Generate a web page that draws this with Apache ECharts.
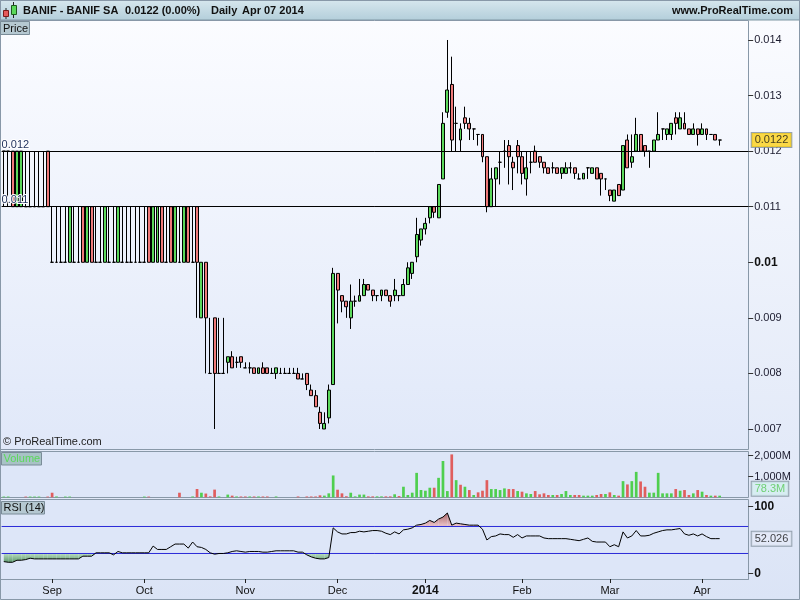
<!DOCTYPE html>
<html><head><meta charset="utf-8">
<script src="https://cdn.jsdelivr.net/npm/echarts@6/dist/echarts.min.js"></script>
<style>html,body{margin:0;padding:0;background:#fff}#c{width:800px;height:600px}</style>
</head><body><div id="c"></div><script>
// ---------- categories ----------
const closedDays = ['2013-12-25', '2013-12-26', '2014-01-01'];
function buildTradingDays(start, end, closed) {
  const out = []; const d = new Date(start + 'T00:00:00Z'); const e = new Date(end + 'T00:00:00Z');
  while (d <= e) {
    const w = d.getUTCDay(); const s = d.toISOString().slice(0, 10);
    if (w !== 0 && w !== 6 && closed.indexOf(s) < 0) out.push(s);
    d.setUTCDate(d.getUTCDate() + 1);
  }
  return out;
}
const dates = buildTradingDays('2013-08-16', '2014-04-07', closedDays);
const padCats = ['p1', 'p2', 'p3', 'p4', 'p5', 'p6'];
const monthLabels = ['Sep', 'Oct', 'Nov', 'Dec', '2014', 'Feb', 'Mar', 'Apr'];
const priceTicks = [0.007, 0.008, 0.009, 0.01, 0.011, 0.012, 0.013, 0.014];
const volumeTicks = [1000, 2000];
const rsiTicks = [0, 100];
const refLevels = [0.012, 0.011];
const rsiBands = [70, 30];

// ---------- values ----------
const open = [
0.0120,0.0120,0.0120,0.0110,0.0110,0.0110,0.0110,0.0110,0.0110,0.0110,
0.0120,0.0100,0.0100,0.0100,0.0100,0.0100,0.0100,0.0100,0.0110,0.0100,
0.0110,0.0100,0.0100,0.0100,0.0100,0.0100,0.0100,0.0100,0.0100,0.0100,
0.0100,0.0100,0.0100,0.0110,0.0100,0.0100,0.0110,0.0100,0.0110,0.0100,
0.0100,0.0100,0.0110,0.0100,0.0110,0.0090,0.0100,0.0080,0.0090,0.0080,
0.0080,0.0082,0.0083,0.0082,0.0083,0.0081,0.0081,0.0081,0.0080,0.0081,
0.0081,0.0080,0.0080,0.0080,0.0080,0.0080,0.0080,0.0080,0.0079,0.0080,
0.0077,0.0076,0.0073,0.0070,0.0072,0.0078,0.0098,0.0094,0.0093,0.0090,
0.0093,0.0093,0.0094,0.0096,0.0095,0.0094,0.0094,0.0095,0.0094,0.0094,
0.0094,0.0094,0.0096,0.0098,0.0101,0.0104,0.0106,0.0108,0.0110,0.0108,
0.0115,0.0127,0.0132,0.0125,0.0122,0.0126,0.0125,0.0124,0.0123,0.0123,
0.0119,0.0110,0.0115,0.0118,0.0120,0.0121,0.0118,0.0121,0.0119,0.0115,
0.0118,0.0120,0.0119,0.0118,0.0117,0.0117,0.0117,0.0116,0.0116,0.0117,
0.0117,0.0115,0.0115,0.0117,0.0116,0.0117,0.0116,0.0115,0.0113,0.0111,
0.0114,0.0113,0.0122,0.0118,0.0120,0.0123,0.0121,0.0120,0.0120,0.0122,
0.0124,0.0123,0.0123,0.0126,0.0124,0.0125,0.0124,0.0123,0.0124,0.0123,
0.0124,0.0123,0.0123,0.0122];
const high = [
0.0120,0.0120,0.0120,0.0120,0.0120,0.0120,0.0120,0.0120,0.0120,0.0120,
0.0120,0.0110,0.0110,0.0110,0.0110,0.0110,0.0110,0.0110,0.0110,0.0110,
0.0110,0.0110,0.0110,0.0110,0.0110,0.0110,0.0110,0.0110,0.0110,0.0110,
0.0110,0.0110,0.0110,0.0110,0.0110,0.0110,0.0110,0.0110,0.0110,0.0110,
0.0110,0.0110,0.0110,0.0110,0.0110,0.0100,0.0100,0.0090,0.0090,0.0090,
0.0090,0.0083,0.0084,0.0083,0.0083,0.0082,0.0082,0.0081,0.0081,0.0082,
0.0081,0.0081,0.0081,0.0081,0.0081,0.0081,0.0081,0.0081,0.0080,0.0080,
0.0078,0.0077,0.0074,0.0073,0.0078,0.0099,0.0098,0.0094,0.0093,0.0096,
0.0094,0.0097,0.0097,0.0096,0.0095,0.0094,0.0095,0.0095,0.0094,0.0097,
0.0094,0.0097,0.0100,0.0100,0.0108,0.0106,0.0108,0.0110,0.0110,0.0114,
0.0127,0.0140,0.0137,0.0128,0.0125,0.0128,0.0126,0.0124,0.0123,0.0123,
0.0119,0.0117,0.0117,0.0120,0.0122,0.0122,0.0119,0.0122,0.0120,0.0120,
0.0120,0.0121,0.0119,0.0118,0.0117,0.0118,0.0117,0.0117,0.0118,0.0118,
0.0117,0.0116,0.0116,0.0117,0.0117,0.0117,0.0116,0.0115,0.0113,0.0113,
0.0114,0.0121,0.0123,0.0123,0.0126,0.0123,0.0121,0.0120,0.0122,0.0127,
0.0124,0.0124,0.0125,0.0127,0.0127,0.0127,0.0124,0.0125,0.0124,0.0125,
0.0124,0.0123,0.0123,0.0122];
const low = [
0.0110,0.0110,0.0110,0.0110,0.0110,0.0110,0.0110,0.0110,0.0110,0.0110,
0.0110,0.0100,0.0100,0.0100,0.0100,0.0100,0.0100,0.0100,0.0100,0.0100,
0.0100,0.0100,0.0100,0.0100,0.0100,0.0100,0.0100,0.0100,0.0100,0.0100,
0.0100,0.0100,0.0100,0.0100,0.0100,0.0100,0.0100,0.0100,0.0100,0.0100,
0.0100,0.0100,0.0100,0.0100,0.0090,0.0090,0.0080,0.0080,0.0070,0.0080,
0.0080,0.0080,0.0081,0.0081,0.0081,0.0081,0.0080,0.0080,0.0080,0.0080,
0.0080,0.0080,0.0079,0.0080,0.0080,0.0080,0.0080,0.0079,0.0079,0.0077,
0.0076,0.0074,0.0070,0.0070,0.0071,0.0078,0.0089,0.0091,0.0090,0.0088,
0.0092,0.0093,0.0094,0.0095,0.0093,0.0093,0.0093,0.0094,0.0092,0.0093,
0.0093,0.0094,0.0096,0.0097,0.0100,0.0103,0.0105,0.0107,0.0108,0.0108,
0.0115,0.0126,0.0120,0.0120,0.0120,0.0124,0.0122,0.0122,0.0121,0.0118,
0.0109,0.0110,0.0110,0.0114,0.0117,0.0114,0.0113,0.0116,0.0114,0.0112,
0.0116,0.0118,0.0117,0.0116,0.0116,0.0116,0.0116,0.0115,0.0116,0.0116,
0.0115,0.0115,0.0115,0.0115,0.0116,0.0115,0.0112,0.0113,0.0111,0.0111,
0.0112,0.0113,0.0117,0.0117,0.0120,0.0120,0.0119,0.0117,0.0120,0.0122,
0.0122,0.0122,0.0122,0.0123,0.0124,0.0124,0.0123,0.0123,0.0121,0.0123,
0.0122,0.0123,0.0122,0.0121];
const close = [
0.0120,0.0120,0.0110,0.0120,0.0120,0.0110,0.0110,0.0110,0.0110,0.0110,
0.0110,0.0100,0.0100,0.0100,0.0100,0.0110,0.0100,0.0100,0.0100,0.0110,
0.0100,0.0100,0.0100,0.0110,0.0100,0.0100,0.0110,0.0100,0.0100,0.0100,
0.0100,0.0100,0.0100,0.0100,0.0110,0.0110,0.0100,0.0100,0.0100,0.0110,
0.0100,0.0110,0.0100,0.0100,0.0100,0.0100,0.0090,0.0080,0.0080,0.0080,
0.0080,0.0083,0.0081,0.0082,0.0082,0.0081,0.0081,0.0080,0.0081,0.0080,
0.0080,0.0080,0.0081,0.0080,0.0080,0.0080,0.0080,0.0079,0.0079,0.0078,
0.0076,0.0074,0.0071,0.0071,0.0077,0.0098,0.0095,0.0093,0.0092,0.0093,
0.0093,0.0094,0.0096,0.0095,0.0094,0.0094,0.0095,0.0094,0.0093,0.0095,
0.0094,0.0096,0.0099,0.0100,0.0105,0.0106,0.0107,0.0110,0.0109,0.0114,
0.0125,0.0131,0.0122,0.0125,0.0124,0.0125,0.0124,0.0124,0.0123,0.0119,
0.0110,0.0115,0.0117,0.0118,0.0120,0.0119,0.0117,0.0119,0.0116,0.0117,
0.0118,0.0118,0.0118,0.0117,0.0116,0.0117,0.0116,0.0117,0.0117,0.0117,
0.0116,0.0115,0.0116,0.0117,0.0117,0.0115,0.0115,0.0115,0.0112,0.0113,
0.0112,0.0121,0.0117,0.0119,0.0123,0.0120,0.0120,0.0120,0.0122,0.0123,
0.0124,0.0124,0.0125,0.0125,0.0126,0.0124,0.0123,0.0124,0.0123,0.0124,
0.0123,0.0123,0.0122,0.0122];
// volume in millions of shares
const volume = [
35,35,0,0,0,35,35,35,35,0,
35,220,40,0,35,35,0,0,0,0,
0,0,0,0,0,0,0,0,0,0,
0,0,35,35,0,0,0,0,0,0,
220,0,0,40,400,220,180,45,370,40,
0,130,80,40,40,40,40,40,40,40,
40,0,40,0,0,0,0,40,0,40,
40,40,95,80,190,1050,365,190,50,220,
45,130,130,45,45,45,45,45,45,145,
60,508,110,222,1175,350,317,460,460,936,
1746,300,2063,825,603,508,349,111,238,317,
825,397,397,349,428,397,397,301,270,190,
159,301,143,190,111,111,111,159,301,111,
111,111,79,79,79,111,159,159,238,111,
79,777,619,777,1222,762,508,222,222,1175,
190,190,190,397,317,349,111,190,349,270,
111,79,79,78.3];
const rsi = [
18,17,17,20,20,21,23,22,22,22,
22,22,22,22,22,22,22,22,26,26,
26,31,31,31,31,28,33,31,31,31,
31,31,31,31,41,36,36,36,40,44,
44,44,38,47,40,39,36,31,29,30,
30,31,33,34,33,32,33,33,33,32,
32,33,34,34,34,34,34,32,32,28,
25,23,22,22,24,68,62,59,59,61,
61,63,62,63,64,64,63,60,58,62,
59,65,66,68,72,73,75,79,76,81,
84,90,72,75,74,73,72,72,72,66,
50,55,56,59,58,58,54,58,53,56,
56,56,56,53,52,52,52,52,52,51,
50,49,51,53,48,47,47,47,40,43,
40,62,53,56,64,56,56,57,60,62,
64,65,65,66,67,59,57,59,56,59,
55,52,52,52.026];

// ---------- build ----------
const FONT = 'Liberation Sans, Arial, sans-serif';
const categories = dates.concat(padCats);
const monthStart = {};
(function () { let m = 0; for (let i = 1; i < dates.length; i++) { if (dates[i].slice(5, 7) !== dates[i - 1].slice(5, 7)) monthStart[i] = monthLabels[m++]; } })();
const isMonthStart = (idx) => Object.prototype.hasOwnProperty.call(monthStart, idx);

const candleData = dates.map((d, i) => [open[i], close[i], low[i], high[i]]);
const GREEN = '#5bd85b', PINK = '#ef7a7a';
const volData = dates.map((d, i) => {
  const prev = i > 0 ? close[i - 1] : close[i];
  const up = close[i] > prev || (close[i] === prev && close[i] >= open[i]);
  return { value: volume[i], itemStyle: { color: up ? '#4fcf4f' : '#e05e5e' } };
});
const rsiSegments = rsi.slice(0, -1).map((v, i) => [i, v, rsi[i + 1]]);
const lastClose = close[close.length - 1];
const lastVol = volume[volume.length - 1];
const lastRsi = rsi[rsi.length - 1];

const vgrad = (a, b) => new echarts.graphic.LinearGradient(0, 0, 0, 1, [{ offset: 0, color: a }, { offset: 1, color: b }]);
const GL = 1.6, GW = 746.6;
const gridDefs = [{ top: 21, height: 427 }, { top: 451.5, height: 45.8 }, { top: 500, height: 79 }];

function zoneRenderer(band, above, outer, cTop, cBottom) {
  return function (params, api) {
    const i = api.value(0), a = api.value(1), b = api.value(2);
    const inA = above ? a > band : a < band;
    const inB = above ? b > band : b < band;
    if (!inA && !inB) return null;
    const pts = [];
    if (inA && inB) {
      pts.push(api.coord([i, a]), api.coord([i + 1, b]), api.coord([i + 1, band]), api.coord([i, band]));
    } else {
      const t = (band - a) / (b - a);
      if (inA) pts.push(api.coord([i, a]), api.coord([i + t, band]), api.coord([i, band]));
      else pts.push(api.coord([i + t, band]), api.coord([i + 1, b]), api.coord([i + 1, band]));
    }
    const y0 = api.coord([0, above ? outer : band])[1];
    const y1 = api.coord([0, above ? band : outer])[1];
    const fill = new echarts.graphic.LinearGradient(0, y0, 0, y1, [{ offset: 0, color: cTop }, { offset: 1, color: cBottom }], true);
    return { type: 'polygon', shape: { points: pts }, style: { fill: fill, stroke: null } };
  };
}

const catAxes = gridDefs.map((g, k) => ({
  type: 'category', gridIndex: k, data: categories, boundaryGap: true,
  axisLine: { show: k === 2, onZero: false, lineStyle: { color: '#8898a8' } },
  axisTick: k === 2 ? { show: true, alignWithLabel: true, interval: (idx) => isMonthStart(idx), length: 4, lineStyle: { color: '#222' } } : { show: false },
  axisLabel: k === 2 ? {
    show: true, interval: (idx) => isMonthStart(idx), margin: 6, color: '#111', fontSize: 11, fontFamily: FONT,
    formatter: (val, idx) => { const l = monthStart[idx] || ''; return /^\d{4}$/.test(l) ? '{b|' + l + '}' : l; },
    rich: { b: { fontWeight: 'bold', fontSize: 12, color: '#111', fontFamily: FONT } }
  } : { show: false },
  splitLine: { show: false }
}));
// full-width helper axes (0 = left edge, 1 = right edge of each panel)
const spanAxes = gridDefs.map((g, k) => ({
  type: 'value', gridIndex: k, min: 0, max: 1, show: false,
  axisLine: { show: false, onZero: false }, axisTick: { show: false }, axisLabel: { show: false }, splitLine: { show: false }
}));

const yCommon = (k, min, max, ticks, fmt, rich) => ({
  type: 'value', gridIndex: k, position: 'right', min: min, max: max, scale: true,
  splitLine: { show: false },
  axisLine: { show: false, onZero: false },
  axisTick: { show: true, customValues: ticks, length: 5, lineStyle: { color: '#333' } },
  axisLabel: { customValues: ticks, formatter: fmt, color: '#1b1b2e', fontSize: 11, fontFamily: FONT, margin: 6, rich: rich }
});

const boldRich = { b: { fontWeight: 'bold', fontSize: 12, color: '#111', fontFamily: FONT } };
const yAxes = [
  yCommon(0, 0.0066579, 0.0143419, priceTicks, v => Math.abs(v - 0.01) < 1e-9 ? '{b|0.01}' : v.toFixed(3), boldRich),
  yCommon(1, 0, 2202, volumeTicks, v => v.toLocaleString('en-US') + 'M'),
  yCommon(2, -7.778, 109.259, rsiTicks, v => '{b|' + v + '}', boldRich)
];

const valueTag = (xAxisIndex, yAxisIndex, value, text, bg, fg, dy) => ({
  type: 'scatter', xAxisIndex: xAxisIndex, yAxisIndex: yAxisIndex, data: [[1, value]], symbolSize: 1, silent: true, clip: false, z: 40,
  itemStyle: { color: 'rgba(0,0,0,0)' },
  label: {
    show: true, position: 'right', distance: 3, offset: [0, dy || 0], formatter: text,
    backgroundColor: bg, borderColor: '#7f8f9b', borderWidth: 1, padding: [2, 3, 1, 3],
    color: fg, fontSize: 11, fontFamily: FONT
  }
});

const option = {
  animation: false,
  textStyle: { fontFamily: FONT },
  grid: gridDefs.map(g => ({ left: GL, width: GW, top: g.top, height: g.height, show: false })),
  xAxis: catAxes.concat(spanAxes),
  yAxis: yAxes,
  series: [
    {
      type: 'candlestick', xAxisIndex: 0, yAxisIndex: 0, data: candleData, clip: false,
      barWidth: 3.4,
      itemStyle: { color: GREEN, color0: PINK, borderColor: '#000', borderColor0: '#000', borderColorDoji: '#000', borderWidth: 1 },
      markLine: {
        silent: true, symbol: ['none', 'none'], animation: false, precision: 8,
        lineStyle: { color: '#000', width: 1, type: 'solid' },
        data: refLevels.map(v => ({
          yAxis: v, lineStyle: { color: '#000', width: 1, type: 'solid' },
          label: { show: true, position: 'insideStartTop', formatter: v.toFixed(3), color: '#1c2d5a', fontSize: 11, fontFamily: FONT, textBorderColor: '#fff', textBorderWidth: 2, distance: [0, 1] }
        }))
      }
    },
    valueTag(3, 0, lastClose, lastClose.toFixed(4), '#fcd116', '#111', 0),
    { type: 'bar', xAxisIndex: 1, yAxisIndex: 1, data: volData, barWidth: 2.7, clip: false },
    valueTag(4, 1, lastVol, lastVol + 'M', '#d4eef0', '#55c955', -7),
    {
      type: 'custom', xAxisIndex: 2, yAxisIndex: 2, data: rsiSegments, silent: true, z: 1,
      encode: { x: 0, y: 1 },
      renderItem: zoneRenderer(rsiBands[0], true, 92, '#a0585c', '#efc8cc')
    },
    {
      type: 'custom', xAxisIndex: 2, yAxisIndex: 2, data: rsiSegments, silent: true, z: 1,
      encode: { x: 0, y: 1 },
      renderItem: zoneRenderer(rsiBands[1], false, 15, '#b9dcc0', '#4e8e5e')
    }
  ].concat(rsiBands.map(v => ({
    type: 'line', xAxisIndex: 5, yAxisIndex: 2, data: [[0, v], [1, v]], symbol: 'none', showSymbol: false, silent: true, z: 30,
    color: '#2a2ad8', itemStyle: { color: '#2a2ad8' },
    lineStyle: { color: '#2a2ad8', width: 1, opacity: 1 }
  }))).concat([
    {
      type: 'line', xAxisIndex: 2, yAxisIndex: 2, data: rsi, symbol: 'none', showSymbol: false, z: 31, clip: false,
      lineStyle: { color: '#000', width: 1 }
    },
    valueTag(5, 2, lastRsi, lastRsi.toFixed(3), '#e3eaf8', '#111', 0)
  ]),
  graphic: { elements: [
    { type: 'rect', silent: true, z: -100, shape: { x: 0, y: 0, width: 800, height: 600 }, style: { fill: vgrad('#fbfcff', '#dbe4f6') } },
    { type: 'rect', silent: true, z: -90, shape: { x: 0, y: 0, width: 800, height: 20 }, style: { fill: vgrad('#d7e7ee', '#b3ceda'), stroke: '#7f97a3', lineWidth: 1 } },
    { type: 'rect', silent: true, z: -90, shape: { x: 0.5, y: 20.5, width: 748, height: 429 }, style: { fill: vgrad('#fbfcff', '#e0e8f9'), stroke: '#8898a8', lineWidth: 1 } },
    { type: 'rect', silent: true, z: -90, shape: { x: 0.5, y: 451.5, width: 748, height: 46 }, style: { fill: '#dde6f8', stroke: '#8898a8', lineWidth: 1 } },
    { type: 'rect', silent: true, z: -90, shape: { x: 0.5, y: 499.5, width: 748, height: 80 }, style: { fill: '#dde6f8', stroke: '#8898a8', lineWidth: 1 } },
    { type: 'rect', silent: true, z: 50, shape: { x: 0.5, y: 0.5, width: 799, height: 599 }, style: { fill: 'none', stroke: '#8898a8', lineWidth: 1 } },
    // header icon
    { type: 'line', silent: true, z: 60, shape: { x1: 6, y1: 8, x2: 6, y2: 19 }, style: { stroke: '#222', lineWidth: 1 } },
    { type: 'rect', silent: true, z: 61, shape: { x: 3.5, y: 10.5, width: 5, height: 6 }, style: { fill: '#e55a5a', stroke: '#7a1a1a', lineWidth: 1 } },
    { type: 'line', silent: true, z: 60, shape: { x1: 13.5, y1: 2, x2: 13.5, y2: 18 }, style: { stroke: '#222', lineWidth: 1 } },
    { type: 'rect', silent: true, z: 61, shape: { x: 11.5, y: 5.5, width: 5, height: 9 }, style: { fill: '#5ad85a', stroke: '#1d5a1d', lineWidth: 1 } },
    // header texts
    { type: 'text', silent: true, z: 60, x: 23, y: 11, style: { text: 'BANIF - BANIF SA', fill: '#111', font: 'bold 11px ' + FONT, verticalAlign: 'middle', textVerticalAlign: 'middle' } },
    { type: 'text', silent: true, z: 60, x: 125, y: 11, style: { text: '0.0122 (0.00%)', fill: '#111', font: 'bold 11px ' + FONT, verticalAlign: 'middle', textVerticalAlign: 'middle' } },
    { type: 'text', silent: true, z: 60, x: 211, y: 11, style: { text: 'Daily', fill: '#111', font: 'bold 11px ' + FONT, verticalAlign: 'middle', textVerticalAlign: 'middle' } },
    { type: 'text', silent: true, z: 60, x: 242, y: 11, style: { text: 'Apr 07 2014', fill: '#111', font: 'bold 11px ' + FONT, verticalAlign: 'middle', textVerticalAlign: 'middle' } },
    { type: 'text', silent: true, z: 60, x: 793, y: 11, style: { text: 'www.ProRealTime.com', fill: '#111', font: 'bold 11px ' + FONT, align: 'right', textAlign: 'right', verticalAlign: 'middle', textVerticalAlign: 'middle' } },
    // panel tags
    { type: 'rect', silent: true, z: 60, shape: { x: 0.5, y: 21.5, width: 29, height: 13 }, style: { fill: '#b5c8d1', stroke: '#7a8c98', lineWidth: 1 } },
    { type: 'text', silent: true, z: 61, x: 3, y: 28.5, style: { text: 'Price', fill: '#111', font: '11px ' + FONT, verticalAlign: 'middle', textVerticalAlign: 'middle' } },
    { type: 'rect', silent: true, z: 60, shape: { x: 1.5, y: 452.5, width: 40, height: 12.5 }, style: { fill: '#a8c2c6', stroke: '#7a8c98', lineWidth: 1 } },
    { type: 'text', silent: true, z: 61, x: 3.5, y: 459, style: { text: 'Volume', fill: '#5ad85a', font: '11px ' + FONT, verticalAlign: 'middle', textVerticalAlign: 'middle' } },
    { type: 'rect', silent: true, z: 60, shape: { x: 1.5, y: 501.5, width: 43, height: 12.5 }, style: { fill: '#b5c8d1', stroke: '#7a8c98', lineWidth: 1 } },
    { type: 'text', silent: true, z: 61, x: 3.5, y: 508, style: { text: 'RSI (14)', fill: '#111', font: '11px ' + FONT, verticalAlign: 'middle', textVerticalAlign: 'middle' } },
    { type: 'text', silent: true, z: 60, x: 3, y: 441.5, style: { text: '\u00a9 ProRealTime.com', fill: '#222', font: '11px ' + FONT, verticalAlign: 'middle', textVerticalAlign: 'middle' } }
  ] }
};
const chart = echarts.init(document.getElementById('c'), null, { renderer: 'canvas', width: 800, height: 600 });
chart.setOption(option);
</script></body></html>
